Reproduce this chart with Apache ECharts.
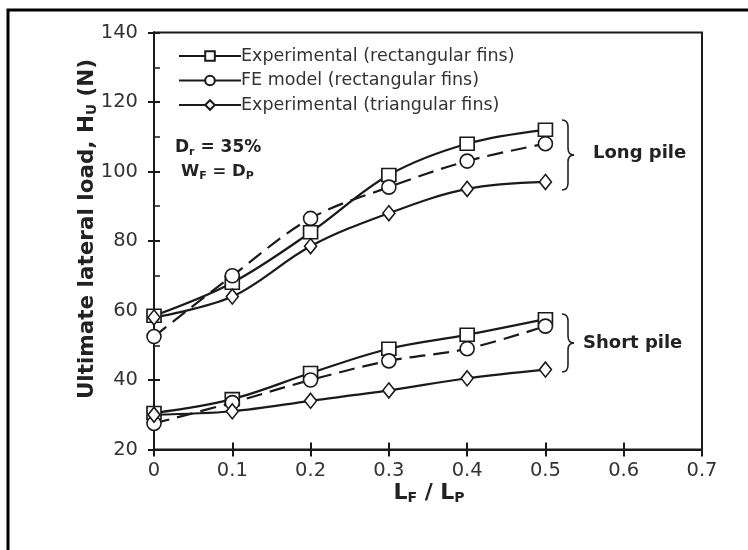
<!DOCTYPE html>
<html>
<head>
<meta charset="utf-8">
<script src="https://cdn.jsdelivr.net/npm/echarts@6/dist/echarts.min.js"></script>
<style>
  html, body { margin: 0; padding: 0; background: #fff; }
  #chart { width: 748px; height: 550px; }
</style>
</head>
<body>
<div id="chart"></div>
<script>
// Ratio of fin length to pile length
var ratios = [0, 0.1, 0.2, 0.3, 0.4, 0.5];

// Ultimate lateral load H_U (N), long pile
var longExpRect = [58.5, 68, 82.5, 99, 108, 112];
var longFeRect  = [52.5, 70, 86.5, 95.5, 103, 108];
var longExpTri  = [58, 64, 78.5, 88, 95, 97];

// Ultimate lateral load H_U (N), short pile
var shortExpRect = [30.5, 34.5, 42, 49, 53, 57.5];
var shortFeRect  = [27.5, 33.5, 40, 45.5, 49, 55.5];
var shortExpTri  = [30, 31, 34, 37, 40.5, 43];

var xTicks = { min: 0, max: 0.7, interval: 0.1 };
var yTicks = { min: 20, max: 140, interval: 20 };

var NAME_RECT = 'Experimental (rectangular fins)';
var NAME_FE = 'FE model (rectangular fins)';
var NAME_TRI = 'Experimental (triangular fins)';

function pairs(vals) {
  return ratios.map(function (r, i) { return [r, vals[i]]; });
}

var INK = '#1a1a1a';
var FONT = '"DejaVu Sans", "Liberation Sans", sans-serif';

function makeSeries(name, vals, symbol, size, dashed) {
  return {
    name: name,
    type: 'line',
    xAxisIndex: 0,
    yAxisIndex: 0,
    data: pairs(vals),
    smooth: 0.35,
    symbol: symbol,
    symbolSize: size,
    showAllSymbol: true,
    lineStyle: { color: INK, width: 2.2, type: dashed ? [16, 8] : 'solid' },
    itemStyle: { color: '#fff', borderColor: INK, borderWidth: 1.6 },
    emphasis: { disabled: true },
    z: 3
  };
}

// Curly brace "}" drawn from quadratic curves and straight strokes
function brace(x, top, bottom) {
  var mid = (top + bottom) / 2;
  var xs = x + 6, tip = x + 12;
  var st = { fill: 'none', stroke: '#222', lineWidth: 1.6 };
  return [
    { type: 'bezierCurve', silent: true, shape: { x1: x, y1: top, cpx1: xs, cpy1: top, x2: xs, y2: top + 7 }, style: st },
    { type: 'line', silent: true, shape: { x1: xs, y1: top + 7, x2: xs, y2: mid - 7 }, style: st },
    { type: 'bezierCurve', silent: true, shape: { x1: xs, y1: mid - 7, cpx1: xs, cpy1: mid, x2: tip, y2: mid }, style: st },
    { type: 'bezierCurve', silent: true, shape: { x1: tip, y1: mid, cpx1: xs, cpy1: mid, x2: xs, y2: mid + 7 }, style: st },
    { type: 'line', silent: true, shape: { x1: xs, y1: mid + 7, x2: xs, y2: bottom - 7 }, style: st },
    { type: 'bezierCurve', silent: true, shape: { x1: xs, y1: bottom - 7, cpx1: xs, cpy1: bottom, x2: x, y2: bottom }, style: st }
  ];
}

var chart = echarts.init(document.getElementById('chart'), null, { renderer: 'canvas' });

var axisLine = { show: true, lineStyle: { color: INK, width: 2 } };
var tickLabel = { color: '#333', fontSize: 19.5, fontFamily: FONT };

var sub = function (size, pad) {
  return { fontSize: size, fontWeight: 'bold', fontFamily: FONT, fill: '#222', padding: [pad, 0, 0, 0] };
};
var bold = function (size) {
  return { fontSize: size, fontWeight: 'bold', fontFamily: FONT, fill: '#222' };
};

var graphics = [
  // outer frame
  { type: 'rect', silent: true, shape: { x: 8, y: 10, width: 800, height: 600 }, style: { fill: 'none', stroke: '#000', lineWidth: 3 } },
  // y axis title
  {
    type: 'text', x: 87, y: 229, rotation: Math.PI / 2,
    style: {
      text: '{b|Ultimate lateral load, H}{s|U}{b| (N)}',
      align: 'center', verticalAlign: 'middle',
      rich: { b: bold(21.5), s: sub(13.5, 10) }
    }
  },
  // x axis title
  {
    type: 'text', x: 429, y: 493,
    style: {
      text: '{b|L}{s|F}{b| / L}{s|P}',
      align: 'center', verticalAlign: 'middle',
      rich: { b: bold(22), s: sub(14, 11) }
    }
  },
  // test conditions
  {
    type: 'text', x: 175, y: 148,
    style: { text: '{b|D}{s|r}{b| = 35%}', verticalAlign: 'middle', rich: { b: bold(17), s: sub(11, 9) } }
  },
  {
    type: 'text', x: 181, y: 172,
    style: { text: '{b|W}{s|F}{b| = D}{s|P}', verticalAlign: 'middle', rich: { b: bold(16.5), s: sub(11, 9) } }
  },
  {
    type: 'text', x: 593, y: 153,
    style: { text: 'Long pile', fontSize: 18, fontWeight: 'bold', fontFamily: FONT, fill: '#222', verticalAlign: 'middle' }
  },
  {
    type: 'text', x: 583, y: 343,
    style: { text: 'Short pile', fontSize: 18, fontWeight: 'bold', fontFamily: FONT, fill: '#222', verticalAlign: 'middle' }
  }
].concat(brace(562, 120, 190), brace(562, 314, 372));

chart.setOption({
  animation: false,
  backgroundColor: '#fff',
  grid: {
    left: 154, top: 32.5, right: 46, bottom: 100.5,
    show: true, borderColor: INK, borderWidth: 2
  },
  legend: {
    orient: 'vertical',
    left: 173,
    top: 41,
    itemWidth: 62,
    itemHeight: 12,
    itemGap: 4.5,
    data: [
      { name: NAME_RECT },
      { name: NAME_FE, lineStyle: { type: 'solid' } },
      { name: NAME_TRI }
    ],
    textStyle: { color: '#333', fontSize: 17.5, lineHeight: 20, fontFamily: FONT, padding: [0, 0, 0, -5] }
  },
  xAxis: [
    {
      type: 'value', min: xTicks.min, max: xTicks.max, interval: xTicks.interval,
      axisLine: axisLine,
      axisTick: { show: true, inside: false, length: 7, lineStyle: { color: INK, width: 2 } },
      axisLabel: Object.assign({ margin: 11, formatter: function (v) { return String(+v.toFixed(1)); } }, tickLabel),
      splitLine: { show: false }
    },
    {
      type: 'value', min: xTicks.min, max: xTicks.max, interval: xTicks.interval, position: 'bottom',
      axisLine: axisLine,
      axisTick: { show: true, inside: true, length: 7, lineStyle: { color: INK, width: 2 } },
      axisLabel: { show: false },
      splitLine: { show: false }
    }
  ],
  yAxis: [
    {
      type: 'value', min: yTicks.min, max: yTicks.max, interval: yTicks.interval,
      axisLine: axisLine,
      axisTick: { show: true, inside: false, length: 6, lineStyle: { color: INK, width: 2 } },
      axisLabel: Object.assign({ margin: 16 }, tickLabel),
      splitLine: { show: false }
    },
    {
      type: 'value', min: yTicks.min, max: yTicks.max, interval: yTicks.interval, position: 'left',
      axisLine: axisLine,
      axisTick: { show: true, inside: true, length: 6, lineStyle: { color: INK, width: 2 } },
      minorTick: { show: true, splitNumber: 2, length: 6, lineStyle: { color: INK, width: 1.5 } },
      axisLabel: { show: false },
      splitLine: { show: false }
    }
  ],
  series: [
    makeSeries(NAME_RECT, longExpRect, 'rect', [14, 13], false),
    makeSeries(NAME_FE, longFeRect, 'circle', 14, true),
    makeSeries(NAME_TRI, longExpTri, 'diamond', [12, 15], false),
    makeSeries(NAME_RECT, shortExpRect, 'rect', [14, 13], false),
    makeSeries(NAME_FE, shortFeRect, 'circle', 14, true),
    makeSeries(NAME_TRI, shortExpTri, 'diamond', [12, 15], false)
  ],
  graphic: graphics
});
</script>
</body>
</html>
